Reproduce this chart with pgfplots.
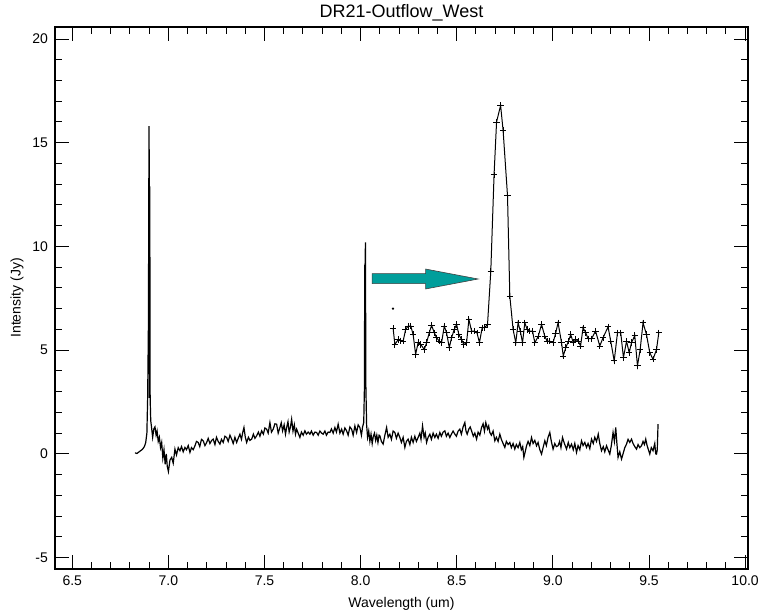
\documentclass[border=0pt]{standalone}
\usepackage{pgfplots}
\pgfplotsset{compat=1.18}
\usepackage{fontspec}
\setmainfont{Liberation Sans}
\definecolor{arrowteal}{RGB}{0,158,155}
\begin{document}
\begin{tikzpicture}
\useasboundingbox (-27.5pt,-22pt) rectangle (353pt,284.5pt);
\begin{axis}[
    name=main,
    at={(0,0)}, anchor=south west,
    scale only axis,
    width=346.5pt, height=271pt,
    xmin=6.41, xmax=10.015,
    ymin=-5.55, ymax=20.58,
    xtick={6.5,7.0,...,10.0},
    ytick={-5,0,5,10,15,20},
    minor x tick num=4,
    minor y tick num=4,
    tick align=inside,
    major tick length=7pt,
    minor tick length=3.6pt,
    every tick/.style={black, line width=0.5pt},
    axis line style={line width=0.6pt},
    font=\fontsize{7}{8}\selectfont,
    /pgf/number format/assume math mode=true,
    xticklabel style={/pgf/number format/.cd, fixed, fixed zerofill, precision=1},
    yticklabel style={/pgf/number format/.cd, fixed, precision=0},
    xlabel={Wavelength (um)},
    ylabel={Intensity (Jy)},
    every axis x label/.style={at={(axis description cs:0.5,-0.0646)}, anchor=center},
    every axis y label/.style={at={(axis description cs:-0.055,0.5)}, anchor=center, rotate=90},
]
% full spectrum
\addplot[black, line width=0.6pt] coordinates {
(6.826,0.05) (6.836,0.02) (6.845,0.08) (6.855,0.15) (6.865,0.22) (6.875,0.35)
(6.882,0.55) (6.888,1.0) (6.892,2.7) (6.896,6.3) (6.899,15.8) (6.901,12.9)
(6.902,2.7) (6.903,12.9) (6.905,2.7) (6.908,1.6) (6.912,1.3) (6.918,0.8) (6.924,1.2) (6.930,1.3)
(6.936,0.9) (6.941,1.1) (6.947,0.6) (6.953,0.8) (6.959,0.3) (6.965,0.55)
(6.971,-0.2) (6.977,0.2) (6.983,-0.5) (6.989,0.0) (6.994,-0.6) (7.000,-0.85)
(7.008,-0.3) (7.017,-0.17) (7.025,-0.45) (7.034,0.23) (7.042,-0.05) (7.051,0.3)
(7.060,0.15) (7.068,0.35) (7.077,0.1) (7.086,0.31) (7.094,0.2) (7.103,0.4)
(7.112,0.07) (7.120,0.3) (7.129,0.2) (7.138,0.39) (7.146,0.6) (7.155,0.55)
(7.163,0.35) (7.172,0.7) (7.181,0.63) (7.190,0.4) (7.199,0.55) (7.207,0.75)
(7.216,0.5) (7.225,0.65) (7.233,0.71) (7.242,0.45) (7.250,0.8) (7.259,0.6)
(7.268,0.47) (7.276,0.7) (7.285,0.55) (7.294,0.85) (7.303,0.79) (7.311,0.6)
(7.320,0.9) (7.329,0.71) (7.337,0.5) (7.346,0.8) (7.355,0.55) (7.363,0.75)
(7.372,0.95) (7.380,0.7) (7.387,1.05) (7.393,1.27) (7.400,0.8) (7.407,0.55)
(7.416,0.8) (7.424,0.65) (7.433,0.71) (7.442,0.95) (7.450,0.75) (7.459,0.87)
(7.468,1.05) (7.476,0.85) (7.485,1.11) (7.494,0.95) (7.502,1.25) (7.511,1.19)
(7.519,1.0) (7.528,1.51) (7.536,1.05) (7.545,1.19) (7.554,1.45) (7.563,1.43)
(7.571,1.0) (7.580,1.27) (7.587,1.5) (7.594,1.11) (7.602,1.4) (7.609,0.95)
(7.615,1.27) (7.622,1.55) (7.628,1.05) (7.635,1.3) (7.641,1.67) (7.648,1.1)
(7.655,1.4) (7.661,0.95) (7.667,1.19) (7.675,1.0) (7.684,0.79) (7.692,1.05)
(7.701,0.9) (7.710,1.11) (7.718,0.95) (7.727,1.05) (7.736,0.95) (7.744,1.1)
(7.753,0.9) (7.762,1.05) (7.771,1.03) (7.779,0.9) (7.788,1.1) (7.797,1.0)
(7.805,0.95) (7.814,1.1) (7.822,0.9) (7.831,1.05) (7.840,1.03) (7.848,1.2)
(7.857,1.0) (7.866,1.27) (7.874,1.05) (7.883,1.43) (7.892,1.0) (7.901,1.19)
(7.909,0.95) (7.918,1.25) (7.927,1.11) (7.935,0.9) (7.944,1.3) (7.953,1.19)
(7.961,0.9) (7.970,1.35) (7.979,1.03) (7.987,1.4) (7.996,1.27) (8.004,0.9)
(8.010,1.3) (8.016,1.51) (8.020,3.35) (8.021,9.1) (8.022,3.35) (8.023,9.1)
(8.025,10.2) (8.027,3.35) (8.031,1.4) (8.036,0.8) (8.042,1.1) (8.048,0.6) (8.054,0.95)
(8.060,0.5) (8.066,0.85) (8.072,1.0) (8.078,0.65) (8.084,0.9) (8.090,0.55)
(8.096,0.9) (8.100,0.87) (8.108,0.6) (8.117,0.47) (8.126,0.9) (8.135,1.27)
(8.143,0.8) (8.152,0.95) (8.160,0.7) (8.169,1.1) (8.178,1.03) (8.186,0.75)
(8.195,1.0) (8.204,0.79) (8.212,0.55) (8.221,0.8) (8.230,0.31) (8.238,0.6)
(8.247,0.71) (8.256,0.45) (8.264,0.8) (8.273,0.55) (8.282,0.85) (8.290,0.6)
(8.299,0.79) (8.308,1.0) (8.314,0.7) (8.322,1.35) (8.330,0.8) (8.336,1.0)
(8.343,0.55) (8.351,0.8) (8.360,0.95) (8.368,0.7) (8.377,1.0) (8.386,0.79)
(8.394,0.95) (8.403,0.75) (8.412,1.03) (8.420,0.85) (8.429,1.05) (8.438,1.11)
(8.446,0.85) (8.455,1.0) (8.464,0.79) (8.472,0.95) (8.481,1.1) (8.490,0.95)
(8.498,0.85) (8.507,1.1) (8.516,1.19) (8.524,0.95) (8.533,1.3) (8.542,1.51)
(8.548,1.1) (8.554,0.95) (8.563,1.2) (8.570,1.3) (8.577,1.11) (8.586,0.85)
(8.594,1.0) (8.603,0.71) (8.611,1.05) (8.620,0.9) (8.629,1.27) (8.637,1.45)
(8.644,1.1) (8.651,1.51) (8.660,1.2) (8.666,1.35) (8.672,1.03) (8.680,0.9)
(8.689,1.1) (8.698,0.63) (8.706,0.8) (8.715,0.6) (8.724,0.95) (8.732,0.7)
(8.741,0.5) (8.750,0.31) (8.758,0.6) (8.767,0.45) (8.776,0.55) (8.784,0.3)
(8.793,0.5) (8.802,0.23) (8.810,0.45) (8.819,0.3) (8.828,0.55) (8.836,0.2)
(8.843,0.35) (8.849,-0.17) (8.856,0.1) (8.863,0.39) (8.871,0.6) (8.880,0.4)
(8.889,0.79) (8.897,0.5) (8.906,0.65) (8.915,0.39) (8.923,0.55) (8.932,0.2)
(8.941,-0.01) (8.949,0.3) (8.958,0.63) (8.966,0.4) (8.975,0.8) (8.984,1.03)
(8.992,0.6) (9.001,0.23) (9.010,0.5) (9.018,0.35) (9.027,0.39) (9.035,0.6)
(9.042,0.3) (9.050,0.79) (9.058,0.55) (9.064,0.4) (9.071,0.23) (9.080,0.55)
(9.088,0.3) (9.097,0.47) (9.106,0.2) (9.114,0.5) (9.123,0.07) (9.131,0.4)
(9.140,0.2) (9.149,0.63) (9.157,0.4) (9.166,0.55) (9.175,0.31) (9.183,0.5)
(9.192,0.25) (9.201,0.71) (9.210,0.5) (9.218,0.8) (9.227,0.6) (9.236,0.95)
(9.244,0.5) (9.253,0.15) (9.262,0.35) (9.270,0.1) (9.279,0.39) (9.287,0.2)
(9.296,-0.01) (9.304,0.4) (9.313,1.03) (9.320,0.6) (9.327,1.27) (9.333,0.5)
(9.339,-0.17) (9.348,0.1) (9.357,-0.25) (9.365,0.0) (9.374,0.3) (9.383,0.47)
(9.391,0.7) (9.400,0.55) (9.409,0.71) (9.417,0.5) (9.426,0.35) (9.435,0.23)
(9.443,0.45) (9.452,0.3) (9.461,0.39) (9.469,0.6) (9.476,0.45) (9.483,0.71)
(9.490,0.4) (9.497,0.2) (9.504,-0.01) (9.512,0.3) (9.521,0.15) (9.530,0.5)
(9.535,0.0) (9.539,-0.01) (9.543,0.2) (9.547,1.43)
};
% zoomed copy of the 8.03 line, shifted up
\addplot[black, line width=0.5pt, mark=+, mark size=1.6pt, mark options={line width=0.45pt}] coordinates {
(8.169,6.05) (8.178,5.27) (8.195,5.51) (8.209,5.45) (8.221,5.43) (8.234,6.00)
(8.247,6.16) (8.261,6.16) (8.273,5.75) (8.286,4.80) (8.299,5.36) (8.313,5.27)
(8.331,5.03) (8.343,5.36) (8.357,5.84) (8.369,6.20) (8.383,5.84) (8.395,5.60)
(8.409,5.43) (8.421,5.36) (8.435,6.16) (8.447,5.84) (8.461,5.12) (8.473,5.60)
(8.487,6.00) (8.499,6.24) (8.511,5.75) (8.525,5.51) (8.537,5.27) (8.551,5.36)
(8.563,6.48) (8.577,5.92) (8.591,5.92) (8.605,5.84) (8.618,5.36) (8.632,6.08)
(8.646,6.10) (8.660,6.24) (8.677,8.80) (8.694,13.45) (8.707,16.00) (8.728,16.80)
(8.741,15.60) (8.764,12.44) (8.776,7.60) (8.793,6.00) (8.807,5.36) (8.819,6.32)
(8.831,5.90) (8.842,5.36) (8.854,6.32) (8.866,6.00) (8.880,5.92) (8.894,5.92)
(8.906,5.36) (8.924,5.67) (8.941,6.24) (8.958,5.67) (8.970,5.43) (8.984,5.43)
(9.001,5.36) (9.014,5.80) (9.027,6.32) (9.045,5.36) (9.054,4.72) (9.067,5.12)
(9.081,5.43) (9.093,5.75) (9.106,5.36) (9.119,5.51) (9.132,5.43) (9.144,5.20)
(9.157,6.08) (9.171,5.84) (9.183,5.55) (9.201,5.55) (9.222,5.92) (9.244,5.20)
(9.261,5.60) (9.287,6.12) (9.301,5.43) (9.319,4.48) (9.336,5.84) (9.353,5.84)
(9.367,4.64) (9.383,5.43) (9.397,4.88) (9.409,5.36) (9.426,5.70) (9.440,4.24)
(9.454,5.03) (9.469,6.32) (9.487,5.75) (9.504,4.88) (9.521,4.56) (9.539,5.03)
(9.551,5.84)
};
\addplot[only marks, mark=*, mark size=0.35pt, black] coordinates {(8.168,7.0)};
% arrow
\filldraw[fill=arrowteal, draw=black!75, line width=0.3pt]
  (axis cs:8.060,8.21) -- (axis cs:8.338,8.21) -- (axis cs:8.338,7.95)
  -- (axis cs:8.611,8.43) -- (axis cs:8.338,8.91) -- (axis cs:8.338,8.69)
  -- (axis cs:8.060,8.69) -- cycle;
\end{axis}
\node[font=\fontsize{9}{10}\selectfont, anchor=center, yshift=7pt] at (main.north) {DR21-Outflow\_West};
\end{tikzpicture}
\end{document}
